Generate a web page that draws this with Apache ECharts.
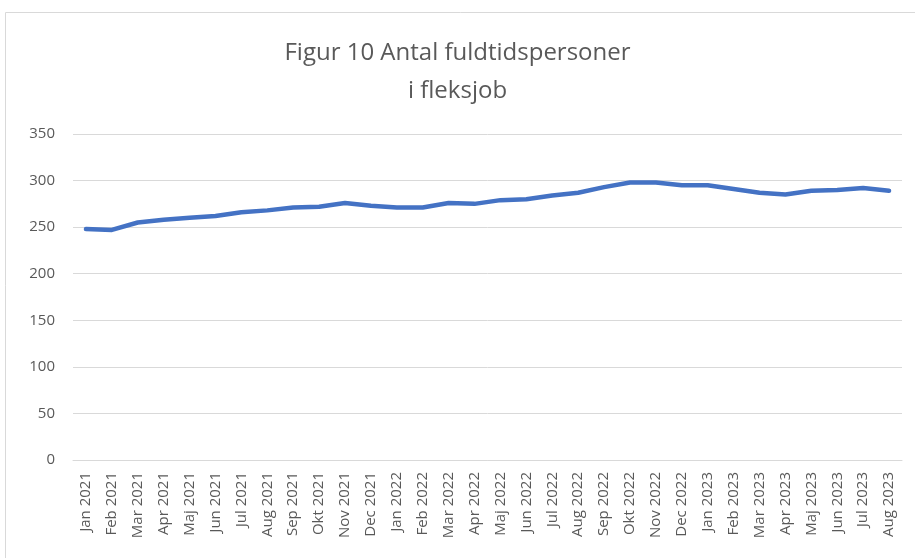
<!DOCTYPE html>
<html>
<head>
<meta charset="utf-8">
<script src="https://cdn.jsdelivr.net/npm/echarts@6/dist/echarts.min.js"></script>
<style>
  html, body { margin: 0; padding: 0; background: #fff; }
  #main { width: 915px; height: 558px; }
</style>
</head>
<body>
<div id="main"></div>
<script>
const months = [
  "Jan 2021", "Feb 2021", "Mar 2021", "Apr 2021", "Maj 2021", "Jun 2021",
  "Jul 2021", "Aug 2021", "Sep 2021", "Okt 2021", "Nov 2021", "Dec 2021",
  "Jan 2022", "Feb 2022", "Mar 2022", "Apr 2022", "Maj 2022", "Jun 2022",
  "Jul 2022", "Aug 2022", "Sep 2022", "Okt 2022", "Nov 2022", "Dec 2022",
  "Jan 2023", "Feb 2023", "Mar 2023", "Apr 2023", "Maj 2023", "Jun 2023",
  "Jul 2023", "Aug 2023"
];
const persons = [
  248, 247, 255, 258, 260, 262, 266, 268, 271, 272, 276, 273,
  271, 271, 276, 275, 279, 280, 284, 287, 293, 298, 298, 295,
  295, 291, 287, 285, 289, 290, 292, 289
];

var myChart = echarts.init(document.getElementById("main"));
var option = {
  animation: false,
  textStyle: { fontFamily: "Open Sans" },
  title: {
    text: "Figur 10 Antal fuldtidspersoner\ni fleksjob",
    left: "center",
    top: 29,
    textStyle: {
      fontFamily: "Open Sans",
      fontSize: 24,
      fontWeight: "normal",
      color: "#595959",
      lineHeight: 38,
    },
  },
  graphic: [
    {
      type: "rect",
      shape: { x: 5.5, y: 12.5, width: 920, height: 560 },
      style: { fill: "none", stroke: "#d9d9d9", lineWidth: 1 },
      silent: true,
    },
  ],
  grid: { left: 73, right: 13, top: 134, bottom: 98 },
  xAxis: {
    type: "category",
    data: months,
    boundaryGap: true,
    axisTick: { show: false },
    axisLine: { lineStyle: { color: "#d9d9d9", width: 1 } },
    axisLabel: {
      rotate: 90,
      interval: 0,
      margin: 12,
      color: "#595959",
      fontSize: 15,
    },
  },
  yAxis: {
    type: "value",
    min: 0,
    max: 350,
    interval: 50,
    axisLine: { show: false },
    axisTick: { show: false },
    splitLine: { lineStyle: { color: "#d9d9d9", width: 1 } },
    axisLabel: { color: "#595959", fontSize: 15, margin: 18 },
  },
  series: [
    {
      name: "Antal fuldtidspersoner",
      type: "line",
      data: persons,
      symbol: "none",
      smooth: false,
      lineStyle: { color: "#4472C4", width: 4.5, cap: "round", join: "round" },
    },
  ],
};
myChart.setOption(option);
</script>
</body>
</html>
